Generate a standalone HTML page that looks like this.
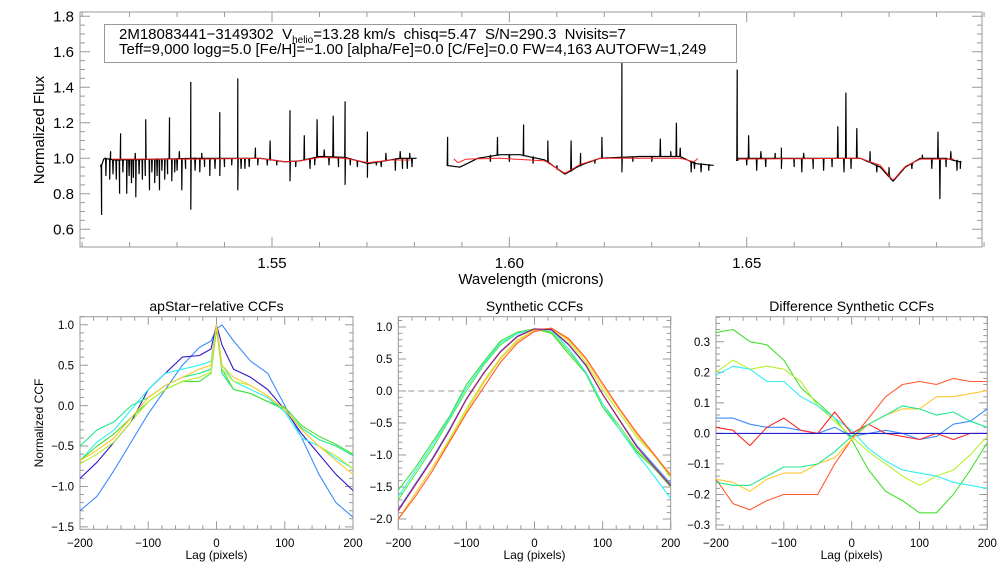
<!DOCTYPE html>
<html><head><meta charset="utf-8"><style>
body{margin:0;background:#fff;}
svg{display:block;font-family:"Liberation Sans",sans-serif;}
</style></head><body>
<svg id="chart" width="1008" height="576" viewBox="0 0 1008 576"></svg>
<script>
// ---------- DATA ----------
const contWl1=[1.5139,1.5145,1.5168,1.5348,1.5475,1.5527,1.5559,1.5601,1.5654,1.5703,1.5749,1.5770,1.5806];
const contFx1=[0.95,1.0,0.99,1.0,1.0,0.98,0.985,1.01,1.005,0.97,0.99,1.0,1.0];
const contWl2=[1.5868,1.5897,1.5935,1.5982,1.6024,1.6077,1.6119,1.6151,1.6193,1.6278,1.6362,1.6394,1.6432];
const contFx2=[0.96,0.95,1.0,1.02,1.02,0.99,0.91,0.96,1.0,1.01,1.01,0.97,0.96];
const contWl3=[1.6478,1.6482,1.6616,1.6743,1.6785,1.6812,1.6838,1.6870,1.6923,1.6952];
const contFx3=[0.97,1.0,1.0,1.0,0.95,0.87,0.95,1.0,1.0,0.98];
const modelWl1=[1.5164,1.5348,1.5475,1.5527,1.5559,1.5601,1.5654,1.5703,1.5749,1.5795];
const modelFx1=[0.995,0.995,1.0,0.98,0.985,1.005,1.0,0.975,0.99,0.99];
const modelWl2=[1.5883,1.5893,1.5910,1.5982,1.6077,1.6119,1.6151,1.6193,1.6362,1.6392,1.6400];
const modelFx2=[1.0,0.975,0.995,1.0,0.985,0.915,0.965,1.0,1.0,0.98,1.0];
const modelWl3=[1.6482,1.6743,1.6785,1.6812,1.6838,1.6870,1.6938];
const modelFx3=[0.995,1.0,0.96,0.875,0.955,0.995,0.995];
const emisWl=[1.5181,1.5234,1.5284,1.5329,1.5390,1.5428,1.5496,1.5538,1.5568,1.5595,1.5629,1.5654,1.5701,1.5870,1.5975,1.6030,1.6081,1.6130,1.6195,1.6237,1.6318,1.6352,1.6480,1.6504,1.6573,1.6692,1.6709,1.6732,1.6903,1.5160,1.5212,1.5305,1.5352,1.5465,1.5610,1.5740,1.5770,1.5790,1.6150,1.6340,1.6360,1.6530,1.6560,1.6620,1.6760,1.6870,1.6930];
const emisPk=[1.14,1.22,1.23,1.43,1.26,1.45,1.10,1.27,1.13,1.22,1.24,1.32,1.15,1.12,1.12,1.19,1.10,1.10,1.12,1.54,1.11,1.20,1.50,1.13,1.06,1.18,1.37,1.17,1.15,1.04,1.03,1.04,1.03,1.06,1.05,1.03,1.04,1.03,1.03,1.04,1.06,1.04,1.03,1.03,1.04,1.02,1.04];
const absWl=[1.5141,1.5158,1.5179,1.5194,1.5204,1.5213,1.5227,1.5242,1.5253,1.5263,1.5274,1.5289,1.5310,1.5329,1.5348,1.5369,1.5390,1.5428,1.5443,1.5538,1.5580,1.5654,1.5701,1.5760,1.5785,1.6237,1.6383,1.6404,1.6521,1.6573,1.6616,1.6662,1.6705,1.6774,1.6848,1.6907,1.6943,
 1.5150,1.5165,1.5172,1.5186,1.5199,1.5208,1.5220,1.5233,1.5247,1.5258,1.5268,1.5280,1.5295,1.5300,1.5318,1.5338,1.5358,1.5380,1.5400,1.5415,1.5435,1.5452,1.5470,1.5490,1.5510,1.5550,1.5590,1.5620,1.5640,1.5665,1.5680,1.5720,1.5730,1.5775,1.5795,
 1.5960,1.6000,1.6050,1.6100,1.6180,1.6260,1.6300,1.6390,1.6420,1.6500,1.6540,1.6600,1.6640,1.6680,1.6720,1.6800,1.6890,1.6920,1.6950];
const absMin=[0.68,0.88,0.80,0.80,0.86,0.78,0.88,0.82,0.86,0.82,0.88,0.87,0.82,0.71,0.92,0.90,0.90,0.82,0.94,0.87,0.94,0.85,0.89,0.93,0.94,0.92,0.92,0.92,0.93,0.94,0.92,0.93,0.92,0.92,0.94,0.77,0.93,
 0.90,0.91,0.88,0.92,0.90,0.89,0.91,0.90,0.92,0.90,0.93,0.91,0.92,0.93,0.94,0.93,0.95,0.94,0.95,0.96,0.94,0.95,0.96,0.96,0.96,0.95,0.96,0.96,0.95,0.96,0.95,0.96,0.95,0.94,0.95,
 0.98,0.98,0.97,0.96,0.97,0.98,0.98,0.94,0.93,0.96,0.95,0.95,0.94,0.95,0.94,0.95,0.94,0.95,0.94];

const lags1=[-200,-175,-150,-125,-100,-75,-50,-25,-8,0,8,25,50,75,100,125,150,175,200];
const ap_lightblue=[-1.3,-1.12,-0.8,-0.45,-0.1,0.2,0.5,0.72,0.8,0.95,1.0,0.8,0.55,0.4,0.0,-0.4,-0.85,-1.2,-1.38];
const ap_darkblue=[-0.9,-0.7,-0.45,-0.2,0.2,0.4,0.6,0.62,0.7,1.0,0.75,0.45,0.35,0.2,-0.05,-0.35,-0.6,-0.85,-1.05];
const ap_cyan=[-0.68,-0.45,-0.3,-0.05,0.2,0.4,0.45,0.5,0.55,1.0,0.5,0.3,0.2,0.1,-0.08,-0.4,-0.5,-0.65,-0.78];
const ap_seagreen=[-0.5,-0.3,-0.2,0.0,0.1,0.25,0.35,0.4,0.45,1.0,0.4,0.2,0.15,0.05,-0.05,-0.28,-0.42,-0.5,-0.62];
const ap_green=[-0.68,-0.5,-0.35,-0.15,0.05,0.2,0.3,0.3,0.4,0.95,0.45,0.2,0.15,0.05,-0.02,-0.25,-0.38,-0.48,-0.6];
const ap_yellowgreen=[-0.72,-0.6,-0.45,-0.2,0.05,0.2,0.3,0.35,0.42,1.0,0.45,0.3,0.25,0.12,-0.05,-0.3,-0.5,-0.62,-0.78];
const ap_orange=[-0.68,-0.55,-0.4,-0.15,0.1,0.25,0.35,0.45,0.5,1.0,0.5,0.35,0.25,0.12,-0.05,-0.3,-0.5,-0.68,-0.85];

const lags2=[-200,-175,-150,-125,-100,-75,-50,-25,0,25,50,75,100,125,150,175,200];
const sy_blue=[-1.85,-1.45,-1.05,-0.6,-0.12,0.28,0.62,0.86,0.97,0.95,0.72,0.4,-0.05,-0.45,-0.85,-1.15,-1.45];
const sy_red=[-1.87,-1.47,-1.07,-0.62,-0.13,0.27,0.61,0.85,0.97,0.96,0.73,0.41,-0.05,-0.46,-0.87,-1.18,-1.48];
const sy_cyan=[-1.65,-1.25,-0.85,-0.42,0.05,0.42,0.75,0.9,0.96,0.95,0.66,0.3,-0.2,-0.6,-0.98,-1.32,-1.68];
const sy_green=[-1.55,-1.2,-0.8,-0.4,0.1,0.45,0.78,0.92,0.97,0.9,0.58,0.28,-0.25,-0.6,-0.95,-1.2,-1.48];
const sy_green2=[-1.7,-1.3,-0.9,-0.45,0.0,0.4,0.72,0.9,0.97,0.92,0.62,0.3,-0.2,-0.55,-0.92,-1.2,-1.5];
const sy_yellowgreen=[-2.0,-1.6,-1.2,-0.75,-0.28,0.15,0.52,0.8,0.95,0.98,0.78,0.45,0.02,-0.35,-0.72,-1.0,-1.35];
const sy_orange=[-2.0,-1.6,-1.2,-0.78,-0.32,0.12,0.5,0.78,0.95,0.98,0.8,0.5,0.08,-0.3,-0.68,-1.0,-1.3];
const sy_orangered=[-2.0,-1.65,-1.25,-0.8,-0.35,0.05,0.45,0.75,0.93,0.98,0.82,0.52,0.12,-0.28,-0.65,-0.98,-1.32];

const lags3=[-200,-175,-150,-125,-100,-75,-50,-25,0,25,50,75,100,125,150,175,200];
const df_green=[0.33,0.34,0.30,0.29,0.24,0.15,0.10,0.05,-0.02,-0.12,-0.19,-0.22,-0.26,-0.26,-0.20,-0.12,-0.03];
const df_yellowgreen=[0.20,0.24,0.21,0.22,0.21,0.17,0.09,0.04,-0.01,-0.06,-0.10,-0.14,-0.17,-0.14,-0.12,-0.07,-0.01];
const df_cyan=[0.19,0.22,0.21,0.17,0.17,0.12,0.09,0.05,0.01,-0.05,-0.09,-0.12,-0.13,-0.14,-0.16,-0.17,-0.18];
const df_blue=[0.05,0.05,0.03,0.02,0.02,0.01,0.00,0.02,-0.01,0.00,0.01,0.00,-0.02,-0.01,0.03,0.04,0.08];
const df_red=[0.02,0.01,-0.04,0.02,0.05,0.01,0.00,0.07,0.0,0.03,0.0,-0.01,-0.02,0.00,-0.02,0.00,0.00];
const df_orangered=[-0.15,-0.23,-0.25,-0.22,-0.20,-0.20,-0.20,-0.10,-0.02,0.05,0.12,0.16,0.17,0.16,0.18,0.17,0.17];
const df_orange=[-0.15,-0.16,-0.19,-0.15,-0.13,-0.13,-0.10,-0.08,-0.02,0.03,0.06,0.08,0.08,0.12,0.12,0.13,0.14];
const df_seagreen=[-0.16,-0.17,-0.17,-0.14,-0.11,-0.11,-0.10,-0.06,-0.01,0.03,0.06,0.09,0.08,0.06,0.07,0.04,0.02];
const df_darkblue=[0,0,0,0,0,0,0,0,0,0,0,0,0,0,0,0,0];

const topXTicks=["1.55","1.60","1.65"];
const topYTicks=["0.6","0.8","1.0","1.2","1.4","1.6","1.8"];
const lagTicks=["−200","−100","0","100","200"];
const p1YTicks=["−1.5","−1.0","−0.5","0.0","0.5","1.0"];
const p2YTicks=["−2.0","−1.5","−1.0","−0.5","0.0","0.5","1.0"];
const p3YTicks=["−0.3","−0.2","−0.1","0.0","0.1","0.2","0.3"];

// ---------- RENDER ----------
const svg=document.getElementById('chart');
const NS='http://www.w3.org/2000/svg';
function el(tag,attrs,parent){const e=document.createElementNS(NS,tag);for(const k in attrs)e.setAttribute(k,attrs[k]);(parent||svg).appendChild(e);return e;}
function num(s){return parseFloat(s.replace('−','-'));}
function scale(d0,d1,r0,r1){return v=>r0+(v-d0)*(r1-r0)/(d1-d0);}

function axes(g,box,xs,ys,xTicks,xMinor,yTicks,yMinor,xr,yr,fs,majLen,minLen){
  const [L,T,R,B]=box;
  const frame=el('rect',{x:L,y:T,width:R-L,height:B-T,fill:'none',stroke:'#999','stroke-width':1},g);
  
  let tp='';
  for(let v=xr[0];v<=xr[1]+1e-9;v+=xMinor){const x=xs(v);const isMaj=xTicks.some(t=>Math.abs(num(t)-v)<xMinor/10);const l=isMaj?majLen:minLen;tp+=`M${x},${B}v${-l}M${x},${T}v${l}`;}
  for(let v=yr[0];v<=yr[1]+1e-9;v+=yMinor){const y=ys(v);const isMaj=yTicks.some(t=>Math.abs(num(t)-v)<yMinor/10);const l=isMaj?majLen:minLen;tp+=`M${L},${y}h${l}M${R},${y}h${-l}`;}
  const tk=el('path',{d:tp,stroke:'#999','stroke-width':1,fill:'none'},g);
  
  xTicks.forEach(t=>{const e=el('text',{x:xs(num(t)),y:B+fs+6,'font-size':fs,'text-anchor':'middle',fill:'#000'},g);e.textContent=t;
    });
  yTicks.forEach(t=>{const e=el('text',{x:L-6,y:ys(num(t))+fs*0.36,'font-size':fs,'text-anchor':'end',fill:'#000'},g);e.textContent=t;
    });
}
function interp(xa,ya,x){if(x<=xa[0])return ya[0];for(let i=1;i<xa.length;i++){if(x<=xa[i]){const t=(x-xa[i-1])/(xa[i]-xa[i-1]);return ya[i-1]+t*(ya[i]-ya[i-1]);}}return ya[ya.length-1];}

// Top panel
const gTop=el('g',{});
const tBox=[80,12,982,247];
const txs=scale(1.55,1.65,272,746.7), tys=scale(0.5,1.8,247,16.25);
axes(gTop,tBox,txs,tys,topXTicks,0.01,topYTicks,0.05,[1.51,1.70],[0.5,1.8],15,10,5);
const clipT=el('clipPath',{id:'ct'});el('rect',{x:80,y:12,width:902,height:235},clipT);
function spectrumPath(cw,cf){
  const pts=[];const x0=txs(cw[0]),x1=txs(cw[cw.length-1]);
  for(let x=x0;x<=x1;x+=1){const w=1.55+(x-272)/4733;pts.push([x,tys(interp(cw,cf,w))]);}
  const addLine=(wl,v)=>{const x=txs(wl);if(x<x0||x>x1)return;const c=tys(interp(cw,cf,wl));pts.push([x-0.4,c],[x,tys(v)],[x+0.4,c]);};
  emisWl.forEach((w,i)=>addLine(w,emisPk[i]));absWl.forEach((w,i)=>addLine(w,absMin[i]));
  pts.sort((a,b)=>a[0]-b[0]);
  return 'M'+pts.map(p=>p[0].toFixed(1)+','+p[1].toFixed(1)).join('L');
}
function modelPath(mw,mf){const pts=[];for(let x=txs(mw[0]);x<=txs(mw[mw.length-1]);x+=2){const w=1.55+(x-272)/4733;pts.push(x.toFixed(1)+','+tys(interp(mw,mf,w)).toFixed(1));}return 'M'+pts.join('L');}
[[contWl1,contFx1],[contWl2,contFx2],[contWl3,contFx3]].forEach((s,i)=>{
  const p=el('path',{d:spectrumPath(s[0],s[1]),stroke:'#000','stroke-width':1.2,fill:'none','clip-path':'url(#ct)'},gTop);
  
});
[[modelWl1,modelFx1],[modelWl2,modelFx2],[modelWl3,modelFx3]].forEach((s,i)=>{
  const p=el('path',{d:modelPath(s[0],s[1]),stroke:'#ff2020','stroke-width':1,fill:'none'},gTop);
  
});
const hb=el('rect',{x:104.5,y:24.5,width:632,height:38,fill:'#fff',stroke:'#999'},gTop);

const l1=el('text',{x:119,y:39,'font-size':15,style:'white-space:pre'},gTop);
l1.innerHTML='2M18083441−3149302  V<tspan font-size="10" dy="4">helio</tspan><tspan dy="-4">=13.28 km/s  chisq=5.47  S/N=290.3  Nvisits=7</tspan>';

const l2=el('text',{x:119,y:54,'font-size':15},gTop);
l2.textContent='Teff=9,000 logg=5.0 [Fe/H]=−1.00 [alpha/Fe]=0.0 [C/Fe]=0.0 FW=4,163 AUTOFW=1,249';

const xl=el('text',{x:531,y:284,'font-size':15,'text-anchor':'middle'},gTop);xl.textContent='Wavelength (microns)';

const yl=el('text',{x:0,y:0,'font-size':15,'text-anchor':'middle',transform:'translate(44,130) rotate(-90)'},gTop);yl.textContent='Normalized Flux';


// Bottom panels
function ccfPanel(name,box,yr,yTicks,yMinor,title,series,lags,extra){
  const g=el('g',{});
  const xs=scale(-200,200,box[0],box[2]);const ys=scale(yr[0],yr[1],box[3],box[1]);
  const yt0=num(yTicks[0]);
  axes(g,box,xs,ys,lagTicks,20,yTicks,yMinor,[-200,200],[yt0,yr[1]],11.5,8,4);
  if(extra)extra(g,xs,ys);
  series.forEach(s=>{
    const p=el('path',{d:'M'+lags.map((l,i)=>xs(l).toFixed(1)+','+ys(s[0][i]).toFixed(1)).join('L'),stroke:s[1],'stroke-width':1.1,fill:'none','stroke-linejoin':'round'},g);
    
  });
  const t=el('text',{x:(box[0]+box[2])/2,y:311,'font-size':14,'text-anchor':'middle'},g);t.textContent=title;
  
  const xt=el('text',{x:(box[0]+box[2])/2,y:559,'font-size':12,'text-anchor':'middle'},g);xt.textContent='Lag (pixels)';
  
  return g;
}
const g1=ccfPanel('apstar-ccf-panel',[80,316.7,353,529.3],[-1.53,1.1],p1YTicks,0.1,'apStar−relative CCFs',
 [[ap_lightblue,'#3a8cff','lightblue'],[ap_darkblue,'#3018cc','darkblue'],[ap_cyan,'#30f0f0','cyan'],[ap_seagreen,'#20e890','seagreen'],[ap_green,'#44e030','green'],[ap_yellowgreen,'#b8f030','yellowgreen'],[ap_orange,'#ffc830','orange']],lags1);
const yt=el('text',{x:0,y:0,'font-size':12,'text-anchor':'middle',transform:'translate(43,423) rotate(-90)'},g1);yt.textContent='Normalized CCF';

ccfPanel('synthetic-ccf-panel',[398.3,316.7,670.7,529.3],[-2.16,1.16],p2YTicks,0.1,'Synthetic CCFs',
 [[sy_green,'#40e030','green'],[sy_green2,'#60e840','green2'],[sy_cyan,'#30f0f0','cyan'],[sy_yellowgreen,'#b8f030','yellowgreen'],[sy_orange,'#ffc830','orange'],[sy_orangered,'#ff5a30','orangered'],[sy_blue,'#3a8cff','blue'],[sy_red,'#b01060','red']],lags2,
 (g,xs,ys)=>{const d=el('line',{x1:xs(-200),x2:xs(200),y1:ys(0),y2:ys(0),stroke:'#999','stroke-dasharray':'6,4'},g);});
ccfPanel('difference-ccf-panel',[716,316.7,987.3,529.3],[-0.314,0.382],p3YTicks,0.02,'Difference Synthetic CCFs',
 [[df_green,'#44e030','green'],[df_yellowgreen,'#b8f030','yellowgreen'],[df_cyan,'#30f0f0','cyan'],[df_blue,'#3a8cff','blue'],[df_red,'#ff2828','red'],[df_orangered,'#ff5a30','orangered'],[df_orange,'#ffc830','orange'],[df_seagreen,'#20e890','seagreen'],[df_darkblue,'#2020d0','darkblue']],lags3);
</script>
</body></html>
